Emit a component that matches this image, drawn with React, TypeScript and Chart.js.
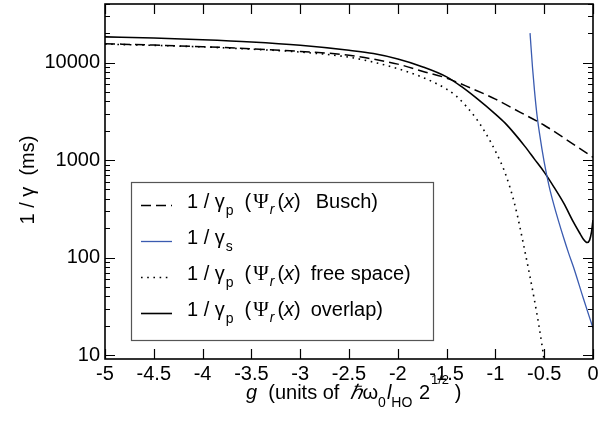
import React, { useEffect, useRef } from 'react';
import { Chart, registerables } from 'chart.js';
Chart.register(...registerables);

const SANS = '"Liberation Sans", Arial, Helvetica, sans-serif';
const SERIF = '"Liberation Serif", "Times New Roman", serif';

const xTickValues = [-5, -4.5, -4, -3.5, -3, -2.5, -2, -1.5, -1, -0.5, 0];
const yTickValues = [10, 100, 1000, 10000];
const xMin = -5;
const xMax = 0;
const yMin = 9.1;
const yMax = 40000;

const buschG = [-5, -4.5, -4, -3.5, -3, -2.5, -2, -1.75, -1.5, -1.25, -1, -0.75, -0.5, -0.25, 0];
const buschV = [15660, 15150, 14600, 13900, 13050, 11900, 9660, 8180, 6940, 5470, 4230, 3110, 2280, 1570, 1070];

const gammaSG = [-0.645, -0.62, -0.6, -0.575, -0.55, -0.5, -0.45, -0.4, -0.35, -0.3, -0.25, -0.2, -0.1, 0];
const gammaSV = [20090, 8990, 5224, 2965, 1937, 954, 541, 345, 231, 158.5, 111, 79.9, 38.4, 18.9];

const freeG = [-5, -4.5, -4, -3.5, -3, -2.5, -2.25, -2, -1.75, -1.5, -1.4, -1.3, -1.2, -1.1, -1, -0.9, -0.8, -0.7, -0.6, -0.55, -0.52, -0.5];
const freeV = [15500, 15050, 14500, 13750, 12850, 11380, 10120, 8680, 7100, 5350, 4530, 3580, 2695, 1893, 1237, 736, 345, 119, 36.6, 18.9, 12.1, 8.68];

const overlapG = [-5, -4.5, -4, -3.5, -3, -2.5, -2.25, -2, -1.75, -1.5, -1.35, -1.2, -1, -0.9, -0.8, -0.7, -0.6, -0.5, -0.4, -0.3, -0.2, -0.13, -0.1, -0.06, -0.035, -0.015, 0];
const overlapV = [18400, 17900, 17200, 16300, 15070, 13400, 12400, 10900, 9100, 7150, 5700, 4370, 2965, 2395, 1848, 1392, 1024, 753, 529, 362, 231, 174, 155, 142.5, 151, 183, 243];

const toPts = (g: number[], v: number[]) => g.map((x, i) => ({ x, y: v[i] }));

type Seg = { t: string; size?: number; style?: string; family?: string; dy?: number; dx?: number };

function segWidth(ctx: CanvasRenderingContext2D, segs: Seg[]) {
  let w = 0;
  for (const s of segs) {
    ctx.font = `${s.style || 'normal'} ${s.size || 20}px ${s.family || SANS}`;
    w += (s.dx || 0) + ctx.measureText(s.t).width;
  }
  return w;
}

function drawRich(ctx: CanvasRenderingContext2D, segs: Seg[], x: number, y: number) {
  let cx = x;
  ctx.textAlign = 'left';
  ctx.textBaseline = 'alphabetic';
  for (const s of segs) {
    cx += s.dx || 0;
    ctx.font = `${s.style || 'normal'} ${s.size || 20}px ${s.family || SANS}`;
    ctx.fillText(s.t, cx, y + (s.dy || 0));
    cx += ctx.measureText(s.t).width;
  }
}

const gp = (): Seg[] => [
  { t: '1 / γ' },
  { t: 'p', size: 14, dy: 7, dx: 1 },
  { t: '(', dx: 11 },
  { t: 'Ψ', family: SERIF, size: 21, dx: 2 },
  { t: 'r', size: 14, style: 'italic', dy: 6, dx: 1 },
  { t: '(', dx: 3 },
  { t: 'x', style: 'italic' },
  { t: ')' },
];

const legendRows: { segs: Seg[]; color: string; dash: number[]; width: number }[] = [
  { segs: [...gp(), { t: 'Busch)', dx: 15 }], color: '#000', dash: [10, 5], width: 1.5 },
  { segs: [{ t: '1 / γ' }, { t: 's', size: 14, dy: 7, dx: 1 }], color: '#3a5bb0', dash: [], width: 1.3 },
  { segs: [...gp(), { t: 'free space)', dx: 10 }], color: '#000', dash: [1.6, 4.6], width: 1.6 },
  { segs: [...gp(), { t: 'overlap)', dx: 10 }], color: '#000', dash: [], width: 1.6 },
];

const decorPlugin = {
  id: 'decor',
  afterDatasetsDraw(chart: any) {
    const ctx: CanvasRenderingContext2D = chart.ctx;
    const { left, right, top, bottom } = chart.chartArea;
    const xs = chart.scales.x;
    const ys = chart.scales.y;
    ctx.save();
    ctx.strokeStyle = '#000';
    ctx.fillStyle = '#000';
    ctx.setLineDash([]);
    // tick marks, pointing inward on all four sides
    ctx.lineWidth = 1.2;
    ctx.beginPath();
    for (const v of xTickValues) {
      const px = Math.round(xs.getPixelForValue(v)) + 0.5;
      ctx.moveTo(px, bottom);
      ctx.lineTo(px, bottom - 10);
      ctx.moveTo(px, top);
      ctx.lineTo(px, top + 10);
    }
    for (let k = 0; k <= 5; k++) {
      for (let m = 1; m <= 9; m++) {
        const v = m * Math.pow(10, k);
        if (v < yMin || v > yMax) continue;
        const py = Math.round(ys.getPixelForValue(v)) + 0.5;
        const len = m === 1 ? 10 : 5;
        ctx.moveTo(left, py);
        ctx.lineTo(left + len, py);
        ctx.moveTo(right, py);
        ctx.lineTo(right - len, py);
      }
    }
    ctx.stroke();
    // frame
    ctx.lineWidth = 1.6;
    ctx.strokeRect(left, top, right - left, bottom - top);

    // legend
    const bx = 131.5, by = 182.5, bw = 302, bh = 158;
    ctx.fillStyle = '#fff';
    ctx.fillRect(bx, by, bw, bh);
    ctx.strokeStyle = '#555';
    ctx.lineWidth = 1.2;
    ctx.strokeRect(bx, by, bw, bh);
    const baseY = [207.5, 243.5, 279.5, 315.5];
    legendRows.forEach((r, i) => {
      ctx.beginPath();
      ctx.strokeStyle = r.color;
      ctx.lineWidth = r.width;
      ctx.setLineDash(r.dash);
      const ly = baseY[i] - 2;
      ctx.moveTo(141, ly);
      ctx.lineTo(172, ly);
      ctx.stroke();
      ctx.setLineDash([]);
      ctx.fillStyle = '#000';
      drawRich(ctx, r.segs, 187, baseY[i]);
    });

    // x-axis title
    const xt: Seg[] = [
      { t: 'g', style: 'italic' },
      { t: '  (units of  ' },
      { t: 'ℏ', style: 'italic' },
      { t: 'ω' },
      { t: '0', size: 14, dy: 8 },
      { t: 'l', style: 'italic', dx: 1 },
      { t: 'HO', size: 14, dy: 8 },
      { t: ' 2', dx: 1 },
      { t: '1/2', size: 13, dy: -15, dx: 1 },
      { t: ' )' },
    ];
    ctx.fillStyle = '#000';
    drawRich(ctx, xt, 246, 399);

    // y-axis title
    const yt: Seg[] = [{ t: '1 / γ  (ms)' }];
    const w = segWidth(ctx, yt);
    ctx.translate(27, 180);
    ctx.rotate(-Math.PI / 2);
    drawRich(ctx, yt, -w / 2, 6.5);
    ctx.restore();
  },
};

export default function App() {
  const ref = useRef<HTMLCanvasElement | null>(null);
  useEffect(() => {
    if (!ref.current) return;
    const common = { pointRadius: 0, fill: false, cubicInterpolationMode: 'monotone' as const };
    const chart = new Chart(ref.current, {
      type: 'line',
      data: {
        datasets: [
          { ...common, label: 'Busch', data: toPts(buschG, buschV), borderColor: '#000', borderWidth: 1.5, borderDash: [10, 5] },
          { ...common, label: 'gamma_s', data: toPts(gammaSG, gammaSV), borderColor: '#3a5bb0', borderWidth: 1.3 },
          { ...common, label: 'free space', data: toPts(freeG, freeV), borderColor: '#000', borderWidth: 1.6, borderDash: [1.6, 4.6] },
          { ...common, label: 'overlap', data: toPts(overlapG, overlapV), borderColor: '#000', borderWidth: 1.6 },
        ],
      },
      options: {
        responsive: false,
        animation: false,
        devicePixelRatio: 1,
        layout: { padding: { left: 0, right: 16, top: 4, bottom: 0 } },
        plugins: { legend: { display: false }, tooltip: { enabled: false } },
        scales: {
          x: {
            type: 'linear',
            min: xMin,
            max: xMax,
            afterBuildTicks: (s: any) => { s.ticks = xTickValues.map((value) => ({ value })); },
            afterFit: (s: any) => { s.height = 72; },
            grid: { display: false, drawTicks: false },
            border: { display: false },
            ticks: {
              autoSkip: false,
              maxRotation: 0,
              padding: 3,
              color: '#000',
              font: { family: SANS, size: 20 },
              callback: (v: any) => String(v),
            },
          },
          y: {
            type: 'logarithmic',
            min: yMin,
            max: yMax,
            afterBuildTicks: (s: any) => { s.ticks = yTickValues.map((value) => ({ value })); },
            afterFit: (s: any) => { s.width = 105; s.paddingTop = 0; s.paddingBottom = 0; },
            grid: { display: false, drawTicks: false },
            border: { display: false },
            ticks: {
              autoSkip: false,
              padding: 5,
              color: '#000',
              font: { family: SANS, size: 20 },
              callback: (v: any) => String(v),
            },
          },
        },
      },
      plugins: [decorPlugin],
    });
    return () => chart.destroy();
  }, []);
  return (
    <div style={{ position: 'absolute', left: 0, top: 0, width: 609, height: 431, background: '#fff' }}>
      <canvas ref={ref} width={609} height={431} style={{ width: 609, height: 431 }} />
    </div>
  );
}
